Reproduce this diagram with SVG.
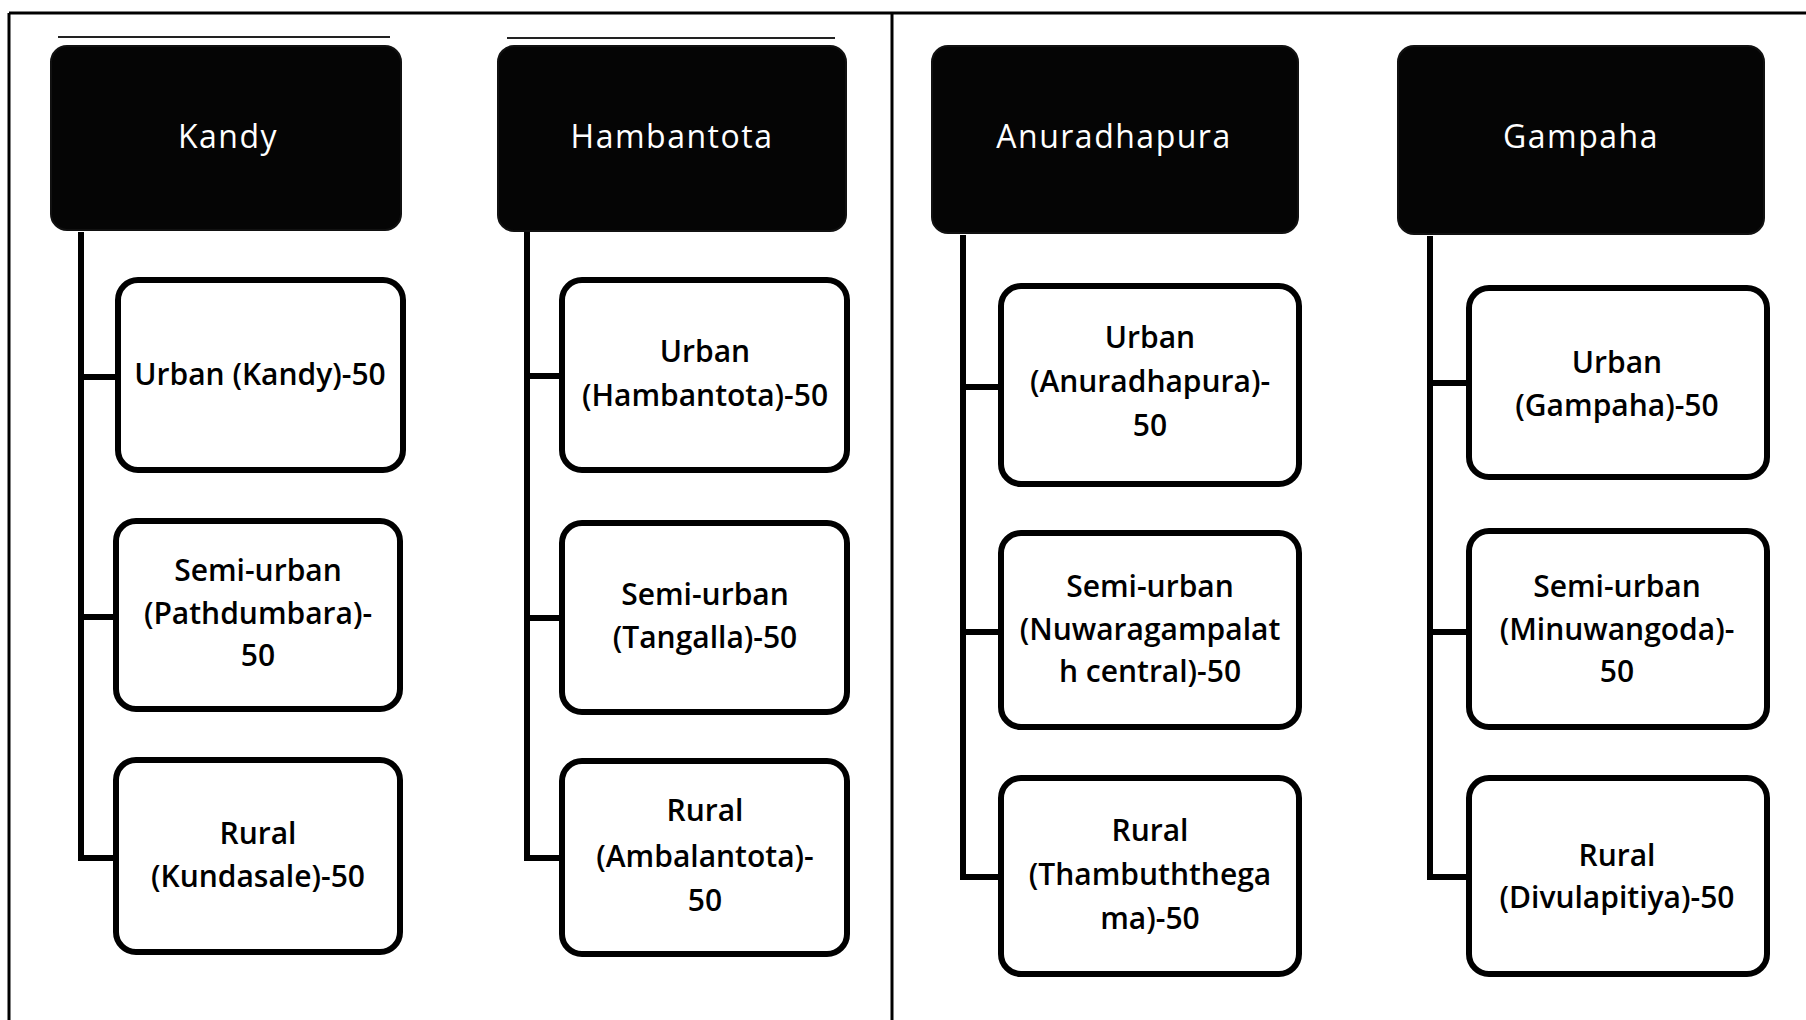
<svg xmlns="http://www.w3.org/2000/svg" width="1806" height="1020" viewBox="0 0 1806 1020">
<style>
.frame{stroke:#000;stroke-width:3;fill:none}
.thin{stroke:#222;stroke-width:2;fill:none}
.hdr{fill:#050505;stroke:#111;stroke-width:2}
.box{fill:#fff;stroke:#000;stroke-width:6}
.conn{stroke:#000;stroke-width:6;fill:none;stroke-linejoin:miter}
.ht{font-family:'Open Sans','Noto Sans','Liberation Sans',sans-serif;font-size:32px;fill:#fff;text-anchor:middle;letter-spacing:1.5px}
.ct{font-family:'Open Sans','Noto Sans','Liberation Sans',sans-serif;font-size:30px;fill:#000;text-anchor:middle;font-weight:600}
</style>
<rect width="1806" height="1020" fill="#fff"/>
<g id="frame">
<line class="frame" x1="9" y1="13" x2="1806" y2="13"/>
<line class="frame" x1="9" y1="13" x2="9" y2="1020"/>
<line class="frame" x1="892" y1="13" x2="892" y2="1020"/>
<line class="thin" x1="58" y1="37" x2="390" y2="37"/>
<line class="thin" x1="507" y1="38" x2="835" y2="38"/>
</g>
<g id="connectors">
<path class="conn" d="M81 232 V858 M78 377 H115 M78 617 H113 M78 858 H113"/>
<path class="conn" d="M527 232 V858 M524 376 H559 M524 618 H559 M524 858 H559"/>
<path class="conn" d="M963 235 V877 M960 387 H998 M960 632 H998 M960 877 H998"/>
<path class="conn" d="M1430 236 V877 M1427 383 H1466 M1427 632 H1466 M1427 877 H1466"/>
</g>
<g id="kandy"><rect class="hdr" x="51" y="46" width="350" height="184" rx="16"/><text class="ht" x="228" y="148">Kandy</text></g>
<g id="hambantota"><rect class="hdr" x="498" y="46" width="348" height="185" rx="16"/><text class="ht" x="672" y="148">Hambantota</text></g>
<g id="anuradhapura"><rect class="hdr" x="932" y="46" width="366" height="187" rx="16"/><text class="ht" x="1114" y="148">Anuradhapura</text></g>
<g id="gampaha"><rect class="hdr" x="1398" y="46" width="366" height="188" rx="16"/><text class="ht" x="1581" y="148">Gampaha</text></g>

<g id="kandy-urban"><rect class="box" x="118" y="280" width="285" height="190" rx="20"/><text class="ct" x="260" y="385">Urban (Kandy)-50</text></g>
<g id="kandy-semi"><rect class="box" x="116" y="521" width="284" height="188" rx="20"/><text class="ct" x="258" y="581">Semi-urban</text><text class="ct" x="258" y="624">(Pathdumbara)-</text><text class="ct" x="258" y="666">50</text></g>
<g id="kandy-rural"><rect class="box" x="116" y="760" width="284" height="192" rx="20"/><text class="ct" x="258" y="844">Rural</text><text class="ct" x="258" y="887">(Kundasale)-50</text></g>

<g id="hamb-urban"><rect class="box" x="562" y="280" width="285" height="190" rx="20"/><text class="ct" x="705" y="362">Urban</text><text class="ct" x="705" y="406">(Hambantota)-50</text></g>
<g id="hamb-semi"><rect class="box" x="562" y="523" width="285" height="189" rx="20"/><text class="ct" x="705" y="605">Semi-urban</text><text class="ct" x="705" y="648">(Tangalla)-50</text></g>
<g id="hamb-rural"><rect class="box" x="562" y="761" width="285" height="193" rx="20"/><text class="ct" x="705" y="821">Rural</text><text class="ct" x="705" y="867">(Ambalantota)-</text><text class="ct" x="705" y="911">50</text></g>

<g id="anu-urban"><rect class="box" x="1001" y="286" width="298" height="198" rx="20"/><text class="ct" x="1150" y="348">Urban</text><text class="ct" x="1150" y="392">(Anuradhapura)-</text><text class="ct" x="1150" y="436">50</text></g>
<g id="anu-semi"><rect class="box" x="1001" y="533" width="298" height="194" rx="20"/><text class="ct" x="1150" y="597">Semi-urban</text><text class="ct" x="1150" y="640">(Nuwaragampalat</text><text class="ct" x="1150" y="682">h central)-50</text></g>
<g id="anu-rural"><rect class="box" x="1001" y="778" width="298" height="196" rx="20"/><text class="ct" x="1150" y="841">Rural</text><text class="ct" x="1150" y="885">(Thambuththega</text><text class="ct" x="1150" y="929">ma)-50</text></g>

<g id="gam-urban"><rect class="box" x="1469" y="288" width="298" height="189" rx="20"/><text class="ct" x="1617" y="373">Urban</text><text class="ct" x="1617" y="416">(Gampaha)-50</text></g>
<g id="gam-semi"><rect class="box" x="1469" y="531" width="298" height="196" rx="20"/><text class="ct" x="1617" y="597">Semi-urban</text><text class="ct" x="1617" y="640">(Minuwangoda)-</text><text class="ct" x="1617" y="682">50</text></g>
<g id="gam-rural"><rect class="box" x="1469" y="778" width="298" height="196" rx="20"/><text class="ct" x="1617" y="866">Rural</text><text class="ct" x="1617" y="908">(Divulapitiya)-50</text></g>
</svg>
